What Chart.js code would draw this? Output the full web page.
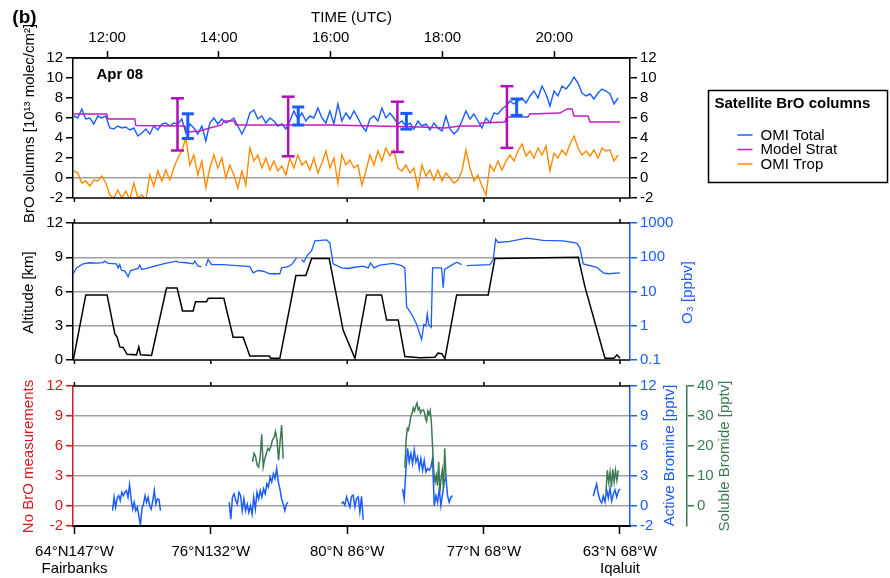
<!DOCTYPE html>
<html>
<head>
<meta charset="utf-8">
<script src="https://cdn.jsdelivr.net/npm/chart.js@4.4.1/dist/chart.umd.min.js"></script>
<style>
  body { margin: 0; background: #fff; width: 890px; height: 578px; position: relative; overflow: hidden; }
  canvas { position: absolute; left: 0; }
  #c1 { top: 0; }
  #c2 { top: 211px; }
  #c3 { top: 372px; }
</style>
</head>
<body>
<canvas id="c1" width="890" height="232"></canvas>
<canvas id="c2" width="890" height="161"></canvas>
<canvas id="c3" width="890" height="206"></canvas>
<script>
const FONT = '"Liberation Sans", Arial, Helvetica, sans-serif';
const BLUE = '#1a5cff';
const ORANGE = '#ff8a00';
const MAGENTA = '#c01ec0';
const BAR_MAGENTA = '#b010b8';
const RED = '#d41a1a';
const GREEN = '#3b7a52';
const GRID = '#a0a0a0';

// time axis (hours UTC) shared by the three panels
const tMin = 11.39, tMax = 21.356;
const hourTicks = [12, 14, 16, 18, 20];
const locTicks = [11.416, 13.856, 16.296, 18.742, 21.177];
const locLabels = [['64°N147°W', 'Fairbanks'], '76°N132°W', '80°N 86°W', '77°N 68°W', ['63°N 68°W', 'Iqaluit']];

// --- satellite BrO columns (10^13 molec/cm2), one OMI pixel every omiStep hours
const omiStart = 11.404, omiStep = 0.0716;
const omiTotal = [
  6.2, 6.0, 6.9, 5.9, 6.0, 5.4, 6.2, 6.0, 6.2, 5.0,
  4.9, 5.2, 5.0, 5.1, 4.8, 5.0, 4.2, 4.5, 4.9, 4.4,
  5.2, 4.8, 5.4, 5.5, 5.2, 5.5, 5.4, 5.9, 4.5, 5.4,
  5.0, 4.4, 5.2, 3.7, 5.5, 6.0, 5.4, 5.9, 5.5, 5.7,
  6.0, 5.2, 4.4, 5.2, 6.5, 6.8, 5.9, 6.2, 5.5, 6.0,
  5.7, 5.2, 5.4, 4.9, 5.7, 6.7, 5.9, 6.5, 5.7, 6.2,
  6.0, 7.0, 6.0, 5.5, 6.7, 5.4, 7.4, 5.7, 6.5, 5.9,
  6.7, 6.0, 5.2, 4.7, 5.9, 6.2, 5.7, 7.0, 6.0, 6.5,
  6.0, 5.4, 5.7, 5.2, 5.5, 4.9, 5.7, 5.2, 5.4, 4.8,
  5.5, 5.0, 4.7, 6.2, 4.9, 4.4, 4.8, 5.7, 6.7, 5.9,
  6.4, 5.7, 5.0, 6.0, 5.5, 6.5, 6.4, 6.9, 7.2, 7.7,
  7.4, 7.7, 8.0, 7.5, 8.2, 8.7, 8.0, 9.2, 8.4, 7.2,
  8.7, 8.2, 9.2, 8.9, 9.4, 10.1, 9.5, 8.5, 8.2, 8.4,
  7.9, 8.5, 8.9, 8.7, 8.4, 7.4, 8.0
];
const omiTrop = [
  0.7, 0.5, -0.5, -0.3, -0.8, -0.2, -0.3, 0.2, -0.5, -1.7,
  -2.0, -1.2, -2.0, -1.3, -2.2, -0.5, -2.0, -1.7, -2.2, 0.3,
  -0.8, 0.7, -0.3, 0.8, -0.2, 1.0, 2.0, 2.7, 4.0, 1.3,
  2.3, 0.3, 1.7, -1.0, 1.0, 2.3, 1.0, 2.0, 0.0, 1.3,
  0.3, -1.0, 0.7, -0.7, 3.0, 1.7, 2.3, 1.0, 2.0, 0.8,
  1.7, 0.7, 1.2, 0.3, 2.0, 1.0, 2.3, 1.3, 1.7, 0.8,
  2.0, 0.5, 1.5, 2.7, 1.0, 2.0, -0.5, 2.3, 1.3, 1.8,
  1.0, 1.3, -0.7, 0.7, 2.3, 1.3, 2.7, 1.7, 3.0, 2.2,
  2.8, 1.0, 0.7, 1.3, 0.5, 1.0, -1.0, 1.3, 0.2, 0.8,
  -0.2, 0.8, -0.3, 0.5, 0.0, -0.5, -0.2, 0.7, 2.8, 1.0,
  -0.3, 0.3, -0.8, -1.7, 1.3, 0.7, 1.7, 0.8, 1.7, 2.3,
  1.7, 2.7, 3.4, 2.2, 2.7, 2.0, 3.0, 2.3, 3.2, 0.7,
  2.5, 2.0, 2.8, 2.3, 3.4, 4.2, 3.0, 2.3, 2.7, 2.2,
  2.8, 2.0, 3.0, 2.7, 2.8, 1.7, 2.3
];
const stratTimes = [11.404, 11.995, 12.013, 12.496, 12.514, 13.391, 13.427, 13.659, 13.838, 14.053,
  14.089, 14.268, 14.304, 15.449, 15.986, 17.597, 18.044, 18.313, 18.671, 18.69,
  19.118, 19.15, 19.53, 19.56, 20.103, 20.228, 20.318, 20.354, 20.604, 20.64, 21.177];
const stratValues = [6.4, 6.4, 5.9, 5.9, 5.25, 5.2, 4.6, 4.7, 5.0, 5.3,
  5.7, 5.7, 5.3, 5.3, 5.3, 5.1, 5.0, 5.2, 5.2, 5.5,
  5.6, 6.1, 6.1, 6.4, 6.5, 6.9, 6.9, 6.2, 6.2, 5.6, 5.6];
// uncertainty ranges
const stratBarTimes = [13.26, 15.24, 17.194, 19.154];
const stratBarLow = [2.75, 2.17, 2.6, 3.01];
const stratBarHigh = [7.97, 8.13, 7.63, 9.18];
const totalBarTimes = [13.444, 15.42, 17.355, 19.328];
const totalBarLow = [3.95, 5.3, 4.89, 6.26];
const totalBarHigh = [6.42, 7.1, 6.46, 7.9];

// --- aircraft altitude (km) and ozone (ppbv)
const altTimes = [11.395, 11.619, 12.0, 12.138, 12.179, 12.227, 12.286, 12.358, 12.526, 12.567,
  12.598, 12.795, 13.063, 13.253, 13.35, 13.539, 13.582, 13.779, 13.811, 14.089,
  14.255, 14.434, 14.554, 14.9, 14.93, 15.091, 15.378, 15.556, 15.659, 15.974,
  16.224, 16.434, 16.643, 16.911, 17.001, 17.209, 17.328, 17.597, 17.865, 17.919,
  17.991, 18.044, 18.254, 18.819, 18.939, 20.43, 20.55, 20.908, 21.069, 21.123, 21.177];
const altValues = [0.0, 5.7, 5.7, 2.3, 2.0, 1.15, 1.1, 0.5, 0.45, 1.15,
  0.45, 0.4, 6.3, 6.3, 4.3, 4.3, 5.1, 5.1, 5.4, 5.4,
  2.0, 2.0, 0.35, 0.35, 0.15, 0.15, 7.4, 7.4, 8.9, 8.9,
  2.6, 0.15, 5.7, 5.7, 3.5, 3.5, 0.3, 0.2, 0.25, 0.6,
  0.55, 0.1, 5.7, 5.7, 8.9, 9.0, 6.4, 0.15, 0.15, 0.45, 0.15];
const o3Times = [11.391, 11.452, 11.57, 11.69, 11.81, 11.928, 11.959, 12.018, 12.168, 12.197,
  12.227, 12.258, 12.317, 12.376, 12.419, 12.496, 12.555, 12.585, 12.616, 12.705,
  12.884, 13.063, 13.242, 13.271, 13.421, 13.539, 13.57, 13.629, 13.69, 13.73,
  13.767, 13.808, 13.869, 14.076, 14.316, 14.554, 14.613, 14.703, 14.792, 14.912,
  15.091, 15.122, 15.24, 15.301, 15.39, 15.43, 15.479, 15.521, 15.58, 15.659,
  15.718, 15.927, 15.986, 16.045, 16.195, 16.314, 16.434, 16.582, 16.672, 16.714,
  16.774, 16.881, 17.119, 17.269, 17.328, 17.359, 17.448, 17.538, 17.627, 17.668,
  17.704, 17.728, 17.753, 17.799, 17.824, 17.985, 18.014, 18.039, 18.134, 18.254,
  18.343, 18.39, 18.433, 18.85, 18.909, 18.952, 18.998, 19.208, 19.507, 19.804,
  20.162, 20.402, 20.461, 20.52, 20.76, 20.878, 20.967, 21.177];
const o3Values = [32, 49, 64, 69, 67, 70, 77, 66, 64, 49,
  61, 41, 40, 27, 41, 44, 47, 59, 44, 47,
  57, 67, 77, 72, 69, 64, 77, 55, 53, null,
  55, 86, 61, 61, 57, 53, 35, 41, 39, 33,
  33, 49, 53, 61, 96, null, 86, 73, 112, 156,
  302, 323, 259, 64, 49, 47, 51, 55, 49, 69,
  49, 59, 66, 57, 49, 3.6, 2.2, 1.1, 0.4, 1.1,
  1.0, 2.2, 1.1, 0.9, 49, 49, 13, 44, 55, 72,
  61, null, 57, 61, 86, 337, 270, 289, 360, 309,
  302, 259, 185, 64, 51, 35, 33, 35];

// --- bromine: flight legs with data, [start hour, step] per leg
const activeLegStart = [12.097, 14.184, 16.195, 17.287, 20.699];
const activeLegStep = [0.0277, 0.0293, 0.0298, 0.0298, 0.0299];
const activeLegs = [
  [-0.47, 0.88, -0.13, 0.77, 1.04, 0.54, 1.38, 1.04, 1.38, 1.55, 0.88, 2.12, 0.71, -0.3, 0.37, -0.47,
   -0.13, -0.98, -1.92, -0.3, 0.2, 1.04, 0.37, 0.88, 0.03, -0.3, 0.54, 1.55, 0.2, 0.71, 0.64, -0.47],
  [0.37, -1.31, 0.88, 1.21, 0.54, 0.2, 1.38, 1.04, -0.47, 0.71, -0.47, 0.2, -0.64, 0.03, -0.81, 0.88,
   -0.3, 1.38, 0.71, 1.55, 0.88, 1.72, 1.21, 2.22, 1.89, 2.9, 2.39, 3.23, 2.73, 3.74, 2.39, 1.72,
   0.71, 0.2, -0.47, 0.2, 0.37],
  [0.24, 0.4, 0.07, 0.91, 0.4, -0.1, 0.97, 1.07, -0.1, 0.74, 0.91, -0.6, 0.97, -1.37],
  [1.72, 0.71, 3.57, 5.76, 4.41, 5.25, 4.24, 5.59, 4.41, 4.92, 3.74, 4.75, 3.57, 4.58, 3.4, 3.74,
   3.57, 3.91, 4.75, 0.03, 1.04, 0.37, 1.72, 0.03, 1.21, 2.39, 2.9, 1.04, 0.37, 0.88, 1.04],
  [1.0, 1.6, 2.2, 1.2, 0.6, 0.3, 1.0, 0.4, 1.6, 0.8, 1.8, 0.5, 1.2, 1.6, 0.9, 1.5, 1.7]
];
const solubleLegStart = [14.602, 17.328, 20.926];
const solubleLegStep = [0.0274, 0.0216, 0.0244];
const solubleLegs = [
  [14.7, 17.5, 16.4, 13.6, 13.0, 16.4, 23.9, 13.0, 15.8, 17.5, 19.2, 18.5, 19.8, 22.0, 22.8, 24.8,
   22.0, 15.3, 21.4, 27.0, 15.8],
  [12.7, 22.0, 25.9, 25.3, 27.6, 29.9, 31.0, 32.7, 31.6, 33.2, 34.3, 32.1, 32.7, 31.0, 31.8, 32.1,
   31.6, 29.3, 28.2, 31.6, 30.5, 31.8, 27.6, 19.2, 11.3, 8.0, 10.2, 6.8, 14.7, 4.6, 9.1, 11.9, 5.7,
   19.2, 10.2],
  [4.6, 11.9, 8.0, 11.3, 6.3, 12.2, 8.0, 11.9, 8.6, 11.9]
];

// tick values
const brTicks = [-2, 0, 2, 4, 6, 8, 10, 12];
const altTicks = [0, 3, 6, 9, 12];
const o3Ticks = [0.1, 1, 10, 100, 1000];
const activeTicks = [-2, 0, 3, 6, 9, 12];
const solubleTicks = [0, 10, 20, 30, 40];

Chart.defaults.font.family = FONT;
Chart.defaults.font.size = 15;
Chart.defaults.color = '#000';
Chart.defaults.animation = false;

function series(t0, dt, vals) {
  return vals.map((v, i) => ({ x: t0 + i * dt, y: v }));
}
function legs(starts, steps, groups) {
  const pts = [];
  groups.forEach((g, k) => {
    if (k > 0) pts.push({ x: starts[k] - 0.01, y: null });
    pts.push(...series(starts[k], steps[k], g));
  });
  return pts;
}
function zip(ts, vs) {
  return ts.map((t, i) => ({ x: t, y: vs[i] }));
}
function bars(ts, lo, hi) {
  const pts = [];
  ts.forEach((t, i) => {
    pts.push({ x: t, y: lo[i] }, { x: t, y: hi[i] }, { x: t + 0.001, y: null });
  });
  return pts;
}

function yAxis(o) {
  return {
    type: o.type || 'linear',
    position: o.position,
    min: o.min,
    max: o.max,
    weight: o.weight || 0,
    afterBuildTicks: s => { s.ticks = o.ticks.map(v => ({ value: v })); },
    afterFit: s => { s.width = o.width; },
    border: { color: o.color, width: 1.5 },
    grid: {
      drawOnChartArea: !!o.lines,
      color: c => (o.lines && c.tick && o.lines.includes(c.tick.value)) ? GRID : 'rgba(0,0,0,0)',
      lineWidth: 1.5,
      tickColor: o.color,
      tickLength: 7,
      tickWidth: 1.5
    },
    ticks: { color: o.color, padding: 3, autoSkip: false, callback: v => String(v) }
  };
}

// frame lines, location marks and free text (rotated axis titles etc.)
function decor(cfg) {
  return {
    id: 'decor',
    afterDraw(chart) {
      const ctx = chart.ctx;
      const a = chart.chartArea;
      const xs = chart.scales.x;
      ctx.save();
      ctx.strokeStyle = '#000';
      ctx.lineWidth = 1.5;
      ctx.beginPath();
      ctx.moveTo(a.left, a.top); ctx.lineTo(a.right, a.top);
      ctx.moveTo(a.left, a.bottom); ctx.lineTo(a.right, a.bottom);
      locTicks.forEach(v => {
        const px = xs.getPixelForValue(v);
        if (cfg.marksTop) { ctx.moveTo(px, a.top); ctx.lineTo(px, a.top - 4); }
        if (cfg.marksBottom) { ctx.moveTo(px, a.bottom); ctx.lineTo(px, a.bottom + 4); }
      });
      ctx.stroke();
      (cfg.texts || []).forEach(t => {
        ctx.save();
        ctx.translate(t.x, t.y);
        if (t.rotate) ctx.rotate(-Math.PI / 2);
        ctx.font = t.font || `15px ${FONT}`;
        ctx.fillStyle = t.color || '#000';
        ctx.textAlign = t.align || 'center';
        ctx.textBaseline = 'middle';
        ctx.fillText(t.text, 0, 0);
        ctx.restore();
      });
      if (cfg.legend) {
        const L = cfg.legend;
        ctx.lineWidth = 1.5;
        ctx.strokeStyle = '#000';
        ctx.strokeRect(L.x, L.y, L.w, L.h);
        ctx.fillStyle = '#000';
        ctx.textAlign = 'left';
        ctx.textBaseline = 'middle';
        ctx.font = `bold 15px ${FONT}`;
        ctx.fillText(L.title, L.x + 6, L.y + 13);
        ctx.font = `15px ${FONT}`;
        chart.data.datasets.filter(d => d.inLegend).forEach((d, i) => {
          const yy = L.y + 44.5 + i * 14.5;
          ctx.strokeStyle = d.borderColor;
          ctx.beginPath();
          ctx.moveTo(L.x + 29, yy);
          ctx.lineTo(L.x + 44, yy);
          ctx.stroke();
          ctx.fillStyle = '#000';
          ctx.fillText(d.label, L.x + 52, yy + 0.5);
        });
      }
      ctx.restore();
    }
  };
}

const common = {
  responsive: false,
  animation: false,
  events: [],
  plugins: { legend: { display: false }, tooltip: { enabled: false } }
};
const lineStyle = { pointRadius: 0, tension: 0, fill: false, spanGaps: false };

// ---------- panel 1: satellite BrO columns
new Chart(document.getElementById('c1'), {
  type: 'line',
  data: {
    datasets: [
      { ...lineStyle, label: 'OMI Total', inLegend: true, data: series(omiStart, omiStep, omiTotal), borderColor: BLUE, borderWidth: 1.4, yAxisID: 'y' },
      { ...lineStyle, label: 'Model Strat', inLegend: true, data: zip(stratTimes, stratValues), borderColor: MAGENTA, borderWidth: 1.4, yAxisID: 'y', order: -1 },
      { ...lineStyle, label: 'OMI Trop', inLegend: true, data: series(omiStart, omiStep, omiTrop), borderColor: ORANGE, borderWidth: 1.4, yAxisID: 'y' },
      { label: 'strat range', data: bars(stratBarTimes, stratBarLow, stratBarHigh), borderColor: BAR_MAGENTA, borderWidth: 2.5,
        pointStyle: 'line', pointRadius: 6.5, pointBorderColor: BAR_MAGENTA, pointBorderWidth: 2.5, spanGaps: false, yAxisID: 'y', order: -2 },
      { label: 'total range', data: bars(totalBarTimes, totalBarLow, totalBarHigh), borderColor: BLUE, borderWidth: 3,
        pointStyle: 'line', pointRadius: 6, pointBorderColor: BLUE, pointBorderWidth: 3, spanGaps: false, yAxisID: 'y', order: -2 }
    ]
  },
  options: {
    ...common,
    layout: { padding: { top: 0, bottom: 34, left: 0, right: 0 } },
    scales: {
      x: {
        type: 'linear', position: 'top', min: tMin, max: tMax,
        afterBuildTicks: s => { s.ticks = hourTicks.map(v => ({ value: v })); },
        afterFit: s => { s.height = 58; },
        border: { color: '#000', width: 1.5 },
        grid: { drawOnChartArea: false, tickColor: '#000', tickLength: 7, tickWidth: 1.5 },
        ticks: { padding: 4, autoSkip: false, maxRotation: 0, color: '#000', callback: v => v + ':00' }
      },
      y: yAxis({ position: 'left', min: -2, max: 12, ticks: brTicks, color: '#000', width: 73, lines: [0] }),
      yR: yAxis({ position: 'right', min: -2, max: 12, ticks: brTicks, color: '#000', width: 260 })
    }
  },
  plugins: [decor({
    marksBottom: true,
    texts: [
      { text: '(b)', x: 24.5, y: 18, font: `bold 19px ${FONT}` },
      { text: 'TIME (UTC)', x: 351.5, y: 17.5 },
      { text: 'Apr 08', x: 96.5, y: 74.5, align: 'left', font: `bold 15px ${FONT}` },
      { text: 'BrO columns [10¹³ molec/cm²]', x: 30, y: 123.5, rotate: true }
    ],
    legend: { x: 708.5, y: 90.5, w: 179, h: 92, title: 'Satellite BrO columns' }
  })]
});

// ---------- panel 2: altitude and ozone
new Chart(document.getElementById('c2'), {
  type: 'line',
  data: {
    datasets: [
      { ...lineStyle, label: 'O3', data: zip(o3Times, o3Values), borderColor: BLUE, borderWidth: 1.3, yAxisID: 'yO3' },
      { ...lineStyle, label: 'Altitude', data: zip(altTimes, altValues), borderColor: '#000', borderWidth: 1.5, yAxisID: 'y' }
    ]
  },
  options: {
    ...common,
    layout: { padding: { top: 12, bottom: 10, left: 0, right: 0 } },
    scales: {
      x: { type: 'linear', display: false, min: tMin, max: tMax },
      y: yAxis({ position: 'left', min: 0, max: 12, ticks: altTicks, color: '#000', width: 73, lines: [3, 6, 9] }),
      yO3: yAxis({ type: 'logarithmic', position: 'right', min: 0.1, max: 1000, ticks: o3Ticks, color: BLUE, width: 260 })
    }
  },
  plugins: [decor({
    marksTop: true,
    marksBottom: true,
    texts: [
      { text: 'Altitude [km]', x: 29, y: 81.5, rotate: true },
      { text: 'O₃ [ppbv]', x: 688, y: 81.5, rotate: true, color: BLUE }
    ]
  })]
});

// ---------- panel 3: active bromine and soluble bromide
new Chart(document.getElementById('c3'), {
  type: 'line',
  data: {
    datasets: [
      { ...lineStyle, label: 'Soluble Bromide', data: legs(solubleLegStart, solubleLegStep, solubleLegs), borderColor: GREEN, borderWidth: 1.5, yAxisID: 'ySol' },
      { ...lineStyle, label: 'Active Bromine', data: legs(activeLegStart, activeLegStep, activeLegs), borderColor: BLUE, borderWidth: 1.5, yAxisID: 'yBr' }
    ]
  },
  options: {
    ...common,
    layout: { padding: { top: 14, bottom: 0, left: 0, right: 0 } },
    scales: {
      x: {
        type: 'linear', position: 'bottom', min: tMin, max: tMax,
        afterBuildTicks: s => { s.ticks = locTicks.map(v => ({ value: v })); },
        afterFit: s => { s.height = 52; },
        border: { color: '#000', width: 2 },
        grid: { drawOnChartArea: false, tickColor: '#000', tickLength: 8, tickWidth: 1.5 },
        ticks: { padding: 10, autoSkip: false, maxRotation: 0, color: '#000', font: { size: 15, lineHeight: 1.1 },
          callback: (v, i) => locLabels[i] }
      },
      y: yAxis({ position: 'left', min: -2, max: 12, ticks: activeTicks, color: RED, width: 73, lines: [0, 3, 6, 9] }),
      yBr: yAxis({ position: 'right', min: -2, max: 12, ticks: activeTicks, color: BLUE, width: 57, weight: 0 }),
      ySol: yAxis({ position: 'right', min: -20 / 3, max: 40, ticks: solubleTicks, color: GREEN, width: 203, weight: 1 })
    }
  },
  plugins: [decor({
    marksTop: true,
    texts: [
      { text: 'No BrO measurements', x: 29, y: 84.5, rotate: true, color: RED },
      { text: 'Active Bromine [pptv]', x: 670, y: 83.5, rotate: true, color: BLUE },
      { text: 'Soluble Bromide [pptv]', x: 724.5, y: 84, rotate: true, color: GREEN }
    ]
  })]
});
</script>
</body>
</html>
